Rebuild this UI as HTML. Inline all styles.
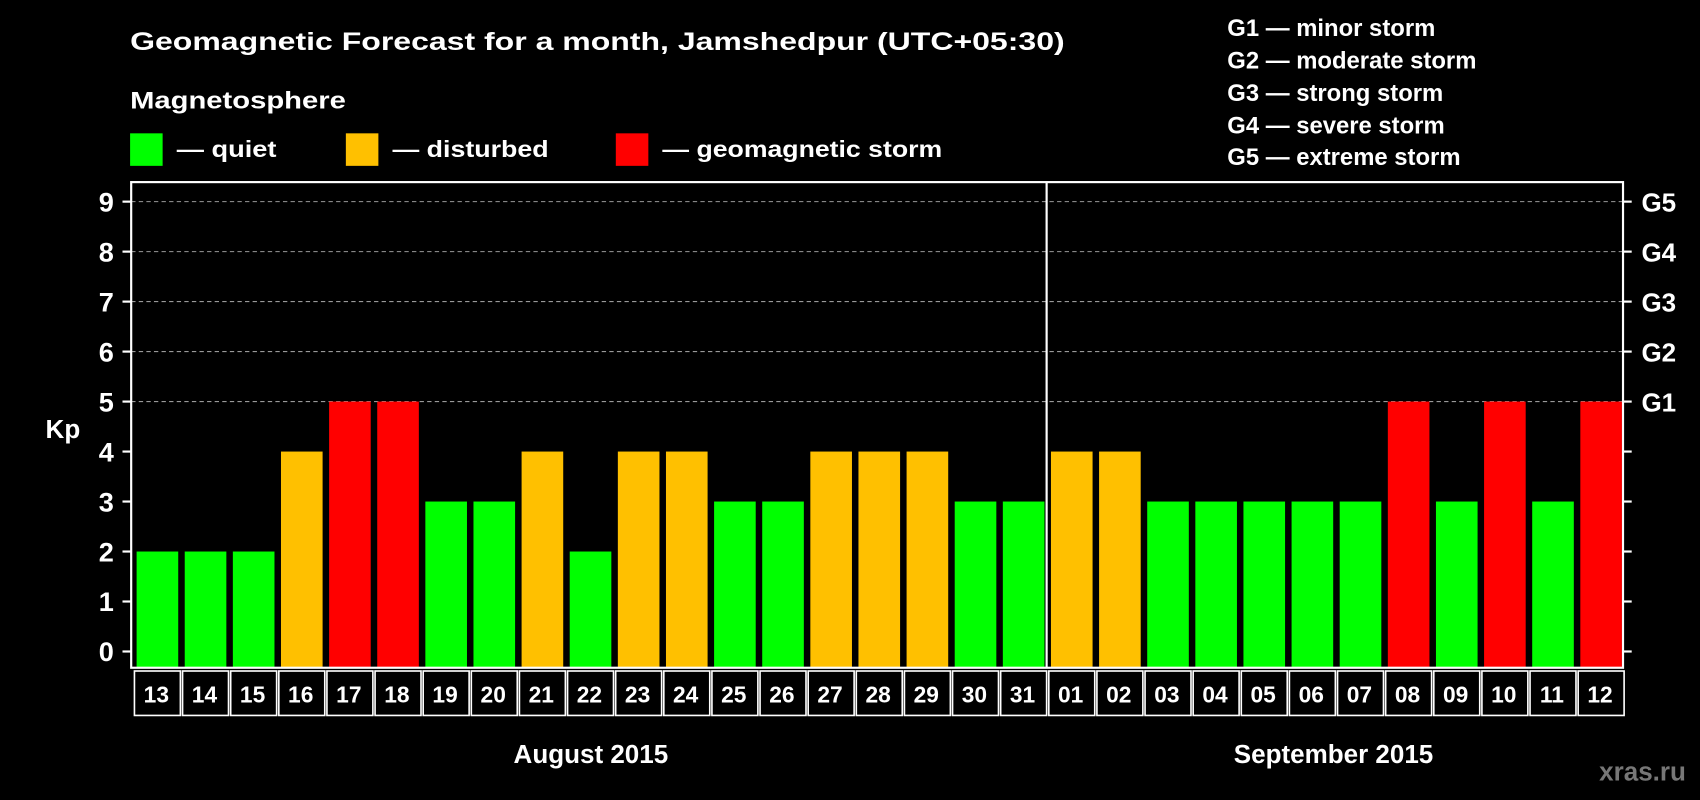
<!DOCTYPE html>
<html><head><meta charset="utf-8"><style>
html,body{margin:0;padding:0;background:#000;}
svg{display:block;}
text{font-family:"Liberation Sans",Arial,sans-serif;font-weight:bold;fill:#fff;}
</style></head><body>
<svg id="chart" width="1700" height="800" viewBox="0 0 1568 738" preserveAspectRatio="none" xmlns="http://www.w3.org/2000/svg">
<rect x="0" y="0" width="1568" height="738" fill="#000"/>
<text x="120" y="46" font-size="23" textLength="862" lengthAdjust="spacingAndGlyphs">Geomagnetic Forecast for a month, Jamshedpur (UTC+05:30)</text>
<text x="120" y="100" font-size="22" textLength="199" lengthAdjust="spacingAndGlyphs">Magnetosphere</text>
<rect x="120" y="123" width="30" height="30" fill="#00ff00"/>
<text x="163" y="145" font-size="21" textLength="92" lengthAdjust="spacingAndGlyphs">— quiet</text>
<rect x="319" y="123" width="30" height="30" fill="#ffc000"/>
<text x="362" y="145" font-size="21" textLength="144" lengthAdjust="spacingAndGlyphs">— disturbed</text>
<rect x="568" y="123" width="30" height="30" fill="#ff0000"/>
<text x="611" y="145" font-size="21" textLength="258" lengthAdjust="spacingAndGlyphs">— geomagnetic storm</text>
<g font-size="22">
<text x="1132" y="33">G1 — minor storm</text>
<text x="1132" y="63">G2 — moderate storm</text>
<text x="1132" y="93">G3 — strong storm</text>
<text x="1132" y="123">G4 — severe storm</text>
<text x="1132" y="152">G5 — extreme storm</text>
</g>
<text x="58" y="404" font-size="24" text-anchor="middle">Kp</text>
<g id="grid"></g>
<g id="bars"></g>
<g id="axes"></g>
<text x="545" y="704" font-size="24" text-anchor="middle">August 2015</text>
<text x="1230" y="704" font-size="24" text-anchor="middle">September 2015</text>
<text x="1515" y="720" font-size="24" text-anchor="middle" style="fill:#777">xras.ru</text>
</svg>
<script>
const days = ["13","14","15","16","17","18","19","20","21","22","23","24","25","26","27","28","29","30","31","01","02","03","04","05","06","07","08","09","10","11","12"];
const kpValues = [2,2,2,4,5,5,3,3,4,2,4,4,3,3,4,4,4,3,3,4,4,3,3,3,3,3,5,3,5,3,5];
const yTicks = [0,1,2,3,4,5,6,7,8,9];
const gLabels = ["G1","G2","G3","G4","G5"];
const gLevels = [5,6,7,8,9];
const augustCount = 19;

const NS = "http://www.w3.org/2000/svg";
const L = 121, R = 1497, T = 168, B = 616;
const slot = (R - L) / days.length;
const xScale = i => L + i * slot;
const yScale = v => 601 - v * 46.11;
function mk(tag, attrs, parent) {
  const e = document.createElementNS(NS, tag);
  for (const k in attrs) e.setAttribute(k, attrs[k]);
  parent.appendChild(e);
  return e;
}
const grid = document.getElementById('grid');
const bars = document.getElementById('bars');
const axes = document.getElementById('axes');

gLevels.forEach(v => {
  const l = mk('line', {x1: L, x2: R, y1: yScale(v), y2: yScale(v), stroke: '#999', 'stroke-width': 1, 'stroke-dasharray': '4 3'}, grid);
  
  
});

kpValues.forEach((v, i) => {
  const color = v >= 5 ? '#ff0000' : (v >= 4 ? '#ffc000' : '#00ff00');
  const r = mk('rect', {x: xScale(i) + 5, y: yScale(v), width: slot - 6, height: B - yScale(v), fill: color}, bars);
  
  
  const lb = mk('rect', {x: xScale(i) + 3, y: 619, width: slot - 2, height: 41, fill: 'none', stroke: '#fff', 'stroke-width': 1.5}, axes);
  
  
  const t = mk('text', {x: xScale(i) + slot / 2 + 1, y: 648, 'font-size': 21, 'text-anchor': 'middle'}, axes);
  t.textContent = days[i];
  
  
});

const frame = mk('rect', {x: L, y: T, width: R - L, height: B - T, fill: 'none', stroke: '#fff', 'stroke-width': 2}, axes);


const dv = mk('line', {x1: xScale(augustCount) + 1, x2: xScale(augustCount) + 1, y1: T, y2: B, stroke: '#fff', 'stroke-width': 2}, axes);



yTicks.forEach(v => {
  const y = yScale(v);
  const a = mk('line', {x1: L - 8, x2: L, y1: y, y2: y, stroke: '#fff', 'stroke-width': 2}, axes);
  
  
  const b = mk('line', {x1: R, x2: R + 8, y1: y, y2: y, stroke: '#fff', 'stroke-width': 2}, axes);
  
  
  const t = mk('text', {x: 98, y: y + 9, 'font-size': 25, 'text-anchor': 'middle'}, axes);
  t.textContent = String(v);
  
  
});
gLevels.forEach((v, i) => {
  const t = mk('text', {x: 514, y: yScale(v) + 9, 'font-size': 24}, axes);
  t.setAttribute('x', R + 17);
  t.textContent = gLabels[i];
  
  
});
</script>
</body></html>
